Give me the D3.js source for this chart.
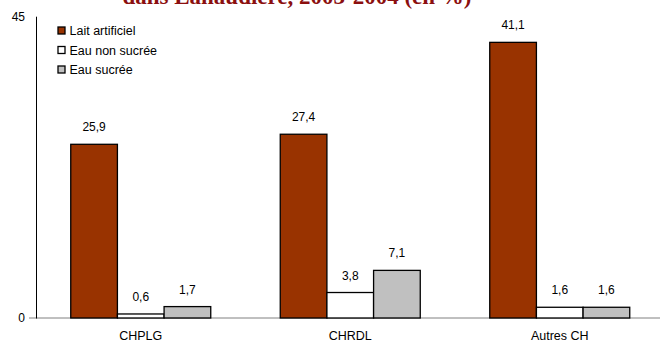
<!DOCTYPE html>
<html>
<head>
<meta charset="utf-8">
<script src="https://cdn.jsdelivr.net/npm/d3@7"></script>
<style>
  body { margin: 0; background: #fff; }
  text { font-family: "Liberation Sans", Arial, sans-serif; }
</style>
</head>
<body>
<div id="chart"></div>
<script>
const categories = ["CHPLG", "CHRDL", "Autres CH"];
const series = ["Lait artificiel", "Eau non sucrée", "Eau sucrée"];
const laitArtificiel = [25.9, 27.4, 41.1];
const eauNonSucree = [0.6, 3.8, 1.6];
const eauSucree = [1.7, 7.1, 1.6];
const yTicks = [0, 45];
const colors = ["#993300", "#ffffff", "#c0c0c0"];

const values = [laitArtificiel, eauNonSucree, eauSucree];

const width = 660, height = 343;

const svg = d3.select("#chart")
    .append("svg")
    .attr("width", width)
    .attr("height", height);

// title (mostly cut off at the top)
svg.append("text")
    .attr("x", 297)
    .attr("y", 4)
    .attr("text-anchor", "middle")
    .style("font-family", "'Liberation Serif', 'Times New Roman', serif")
    .style("font-weight", "bold")
    .style("font-size", "23px")
    .style("fill", "#8b0f0f")
    .text("dans Lanaudière, 2003-2004 (en %)");

const x0 = d3.scaleBand()
    .domain(categories)
    .range([36, 664.5]);

const x1 = d3.scaleBand()
    .domain(series)
    .range([0, 140]);

const y = d3.scaleLinear()
    .domain([0, 45])
    .range([318, 16.2]);

// baseline
svg.append("line")
    .attr("x1", 29).attr("x2", 660)
    .attr("y1", y(0)).attr("y2", y(0))
    .attr("stroke", "#808080")
    .attr("stroke-width", 1);

const groups = svg.selectAll(".group")
    .data(categories)
    .enter()
    .append("g")
    .attr("class", "group")
    .attr("transform", d => "translate(" + (x0(d) + x0.bandwidth() / 2 - 70) + ",0)");

groups.each(function (cat, ci) {
    const g = d3.select(this);
    series.forEach((s, si) => {
        const v = values[si][ci];
        g.append("rect")
            .attr("x", x1(s))
            .attr("y", y(v))
            .attr("width", x1.bandwidth())
            .attr("height", y(0) - y(v))
            .attr("fill", colors[si])
            .attr("stroke", "#000")
            .attr("stroke-width", 1.3);
        g.append("text")
            .attr("x", x1(s) + x1.bandwidth() / 2)
            .attr("y", y(v) - 13)
            .attr("text-anchor", "middle")
            .style("font-size", "12px")
            .style("fill", "#000")
            .text(d3.format(".1f")(v).replace(".", ","));
    });
});

// y axis
const axisY = d3.axisLeft(y).tickValues(yTicks).tickSize(0).tickPadding(11);
svg.append("g")
    .attr("transform", "translate(36,0)")
    .call(axisY)
    .call(g => g.select(".domain").attr("stroke", "#000"))
    .call(g => g.selectAll("text").style("font-size", "12px").style("font-family", "'Liberation Sans', Arial, sans-serif"));

// category labels
svg.selectAll(".cat")
    .data(categories)
    .enter()
    .append("text")
    .attr("class", "cat")
    .attr("x", d => x0(d) + x0.bandwidth() / 2)
    .attr("y", 339.5)
    .attr("text-anchor", "middle")
    .style("font-size", "12.5px")
    .text(d => d);

// legend
const legend = svg.selectAll(".legend")
    .data(series)
    .enter()
    .append("g")
    .attr("class", "legend")
    .attr("transform", (d, i) => "translate(58," + (27 + i * 19.5) + ")");

legend.append("rect")
    .attr("width", 7)
    .attr("height", 7)
    .attr("fill", (d, i) => colors[i])
    .attr("stroke", "#000")
    .attr("stroke-width", 1.3);

legend.append("text")
    .attr("x", 11.5)
    .attr("y", 8)
    .style("font-size", "12.5px")
    .text(d => d);
</script>
</body>
</html>
